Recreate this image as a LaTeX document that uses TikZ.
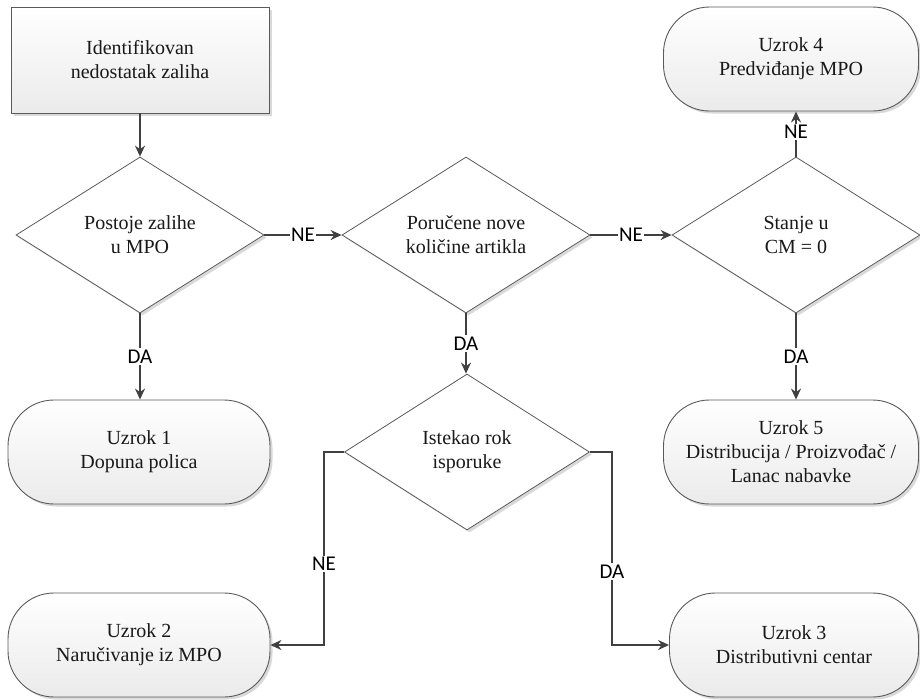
\documentclass[tikz,border=0pt]{standalone}
\usepackage{fontspec}
\setmainfont{Liberation Serif}
\newfontfamily\boxfont{Liberation Serif}
\newfontfamily\lblfont{Carlito}
\usetikzlibrary{arrows.meta,shapes.geometric,shadows}
\definecolor{linegray}{HTML}{404040}
\definecolor{edgegray}{HTML}{5A5A5A}

\begin{document}
\begin{tikzpicture}[x=1pt,y=-1pt,>=Stealth,
  boxshadow/.style={drop shadow={shadow xshift=2.5pt,shadow yshift=-2.5pt,fill=black!25,opacity=0.6}},
  boxtext/.style={align=center,text=black!90,font=\boxfont\fontsize{20}{24}\selectfont},
  startbox/.style={rectangle,draw=edgegray,line width=0.9pt,top color=white,bottom color=black!8,boxshadow,boxtext,minimum width=258pt,minimum height=106pt},
  decision/.style={diamond,aspect=1.59,draw=edgegray,line width=0.8pt,fill=white,boxshadow,boxtext,inner sep=0pt,minimum width=248pt,minimum height=156pt},
  terminal/.style={rectangle,rounded corners=46pt,draw=edgegray,line width=0.9pt,top color=white,bottom color=black!8,boxshadow,boxtext,minimum height=104pt},
  flow/.style={draw=linegray,line width=1.8pt,-{Stealth[length=11pt,width=10pt]}},
  answer/.style={fill=white,inner sep=1.5pt,text=black,font=\lblfont\fontsize{21}{24}\selectfont}]
  \useasboundingbox (0,0) rectangle (920,699);
  % nodes
  \node[startbox] (start) at (140,60) {Identifikovan\\nedostatak zaliha};
  \node[decision] (zalihe) at (140,235) {Postoje zalihe\\u MPO};
  \node[decision] (poruceno) at (466,235) {Poručene nove\\količine artikla};
  \node[decision] (stanje) at (796,235) {Stanje u\\CM = 0};
  \node[decision,minimum width=245pt] (rok) at (467,452) {Istekao rok\\isporuke};
  \node[terminal,minimum width=262pt] (uzrok1) at (139,452) {Uzrok 1\\Dopuna polica};
  \node[terminal,minimum width=262pt] (uzrok2) at (139,645) {Uzrok 2\\Naručivanje iz MPO};
  \node[terminal,minimum width=249pt] (uzrok3) at (794,645) {Uzrok 3\\Distributivni centar};
  \node[terminal,minimum width=255pt] (uzrok4) at (791,59) {Uzrok 4\\Predviđanje MPO};
  \node[terminal,minimum width=255pt] (uzrok5) at (791,452) {Uzrok 5\\Distribucija / Proizvođač /\\Lanac nabavke};
  \coordinate (nebend) at (324,452);
  \coordinate (dabend) at (612,452);
  % connectors
  \draw[flow] (start) -- (zalihe);
  \draw[flow] (zalihe) -- node[answer]{NE} (poruceno);
  \draw[flow] (poruceno) -- node[answer]{NE} (stanje);
  \draw[flow] (stanje.north) -- node[answer,pos=0.55]{NE} (stanje.north |- uzrok4.south);
  \draw[flow] (zalihe.south) -- node[answer]{DA} (zalihe.south |- uzrok1.north);
  \draw[flow] (poruceno.south) -- node[answer]{DA} (poruceno.south |- rok.north);
  \draw[flow] (stanje.south) -- node[answer]{DA} (stanje.south |- uzrok5.north);
  \draw[flow] (rok.west) -- (nebend) |- node[answer,pos=0.29]{NE} (uzrok2.east);
  \draw[flow] (rok.east) -- (dabend) |- node[answer,pos=0.31]{DA} (uzrok3.west);
\end{tikzpicture}
\end{document}
